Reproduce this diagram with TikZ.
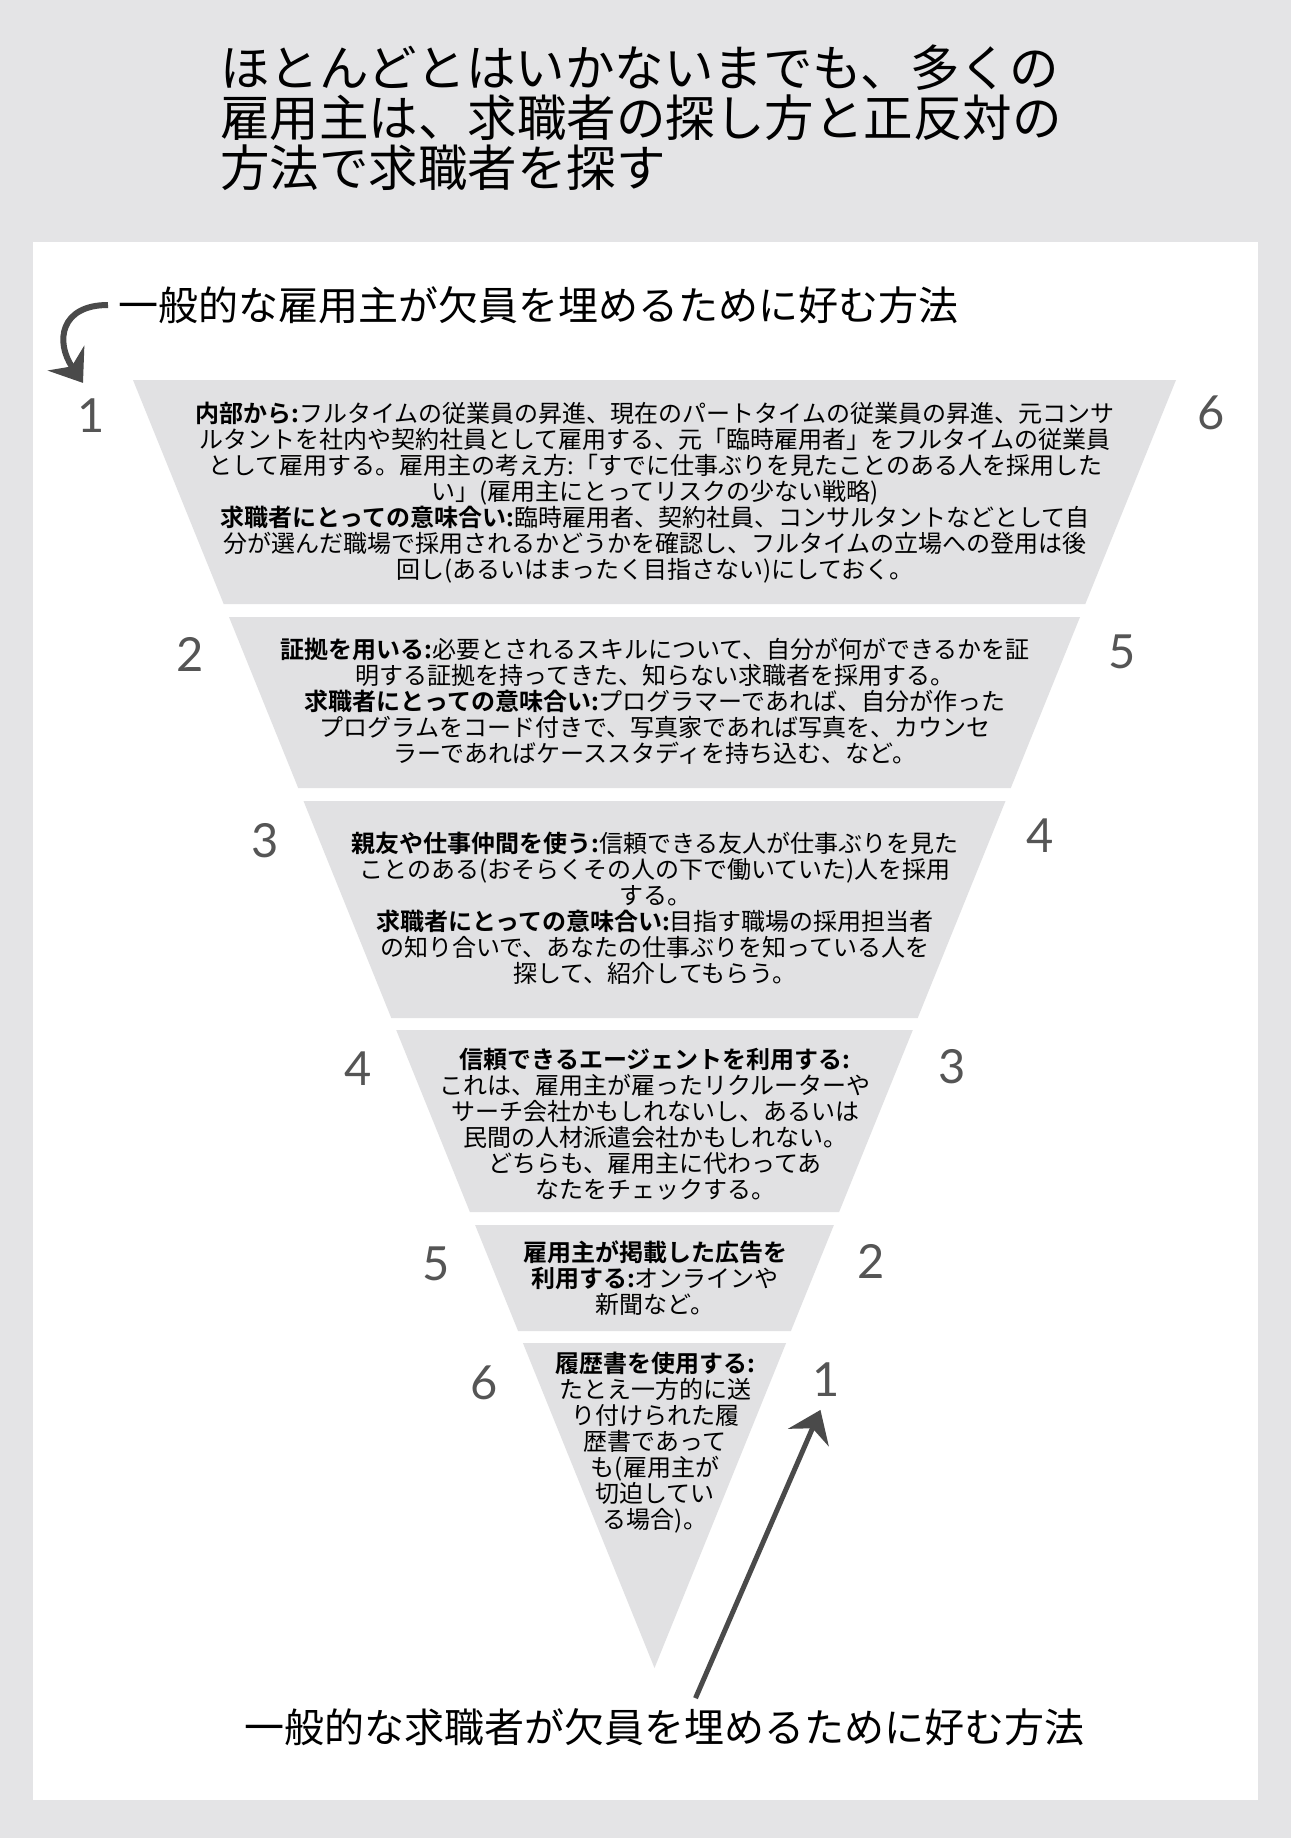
\documentclass[tikz,border=0pt]{standalone}
\usepackage{fontspec}
\setmainfont{Noto Sans CJK JP}[BoldFont={* Bold}]
\newfontfamily\numfont{Lato}
\usetikzlibrary{arrows.meta}
\definecolor{pagegray}{RGB}{228,228,230}
\definecolor{bandgray}{RGB}{225,225,227}
\definecolor{numgray}{RGB}{85,85,85}
\definecolor{arrowgray}{RGB}{74,74,74}
\tikzset{
  num/.style={font=\numfont\fontsize{47}{47}\selectfont, text=numgray, inner sep=0pt},
  bandtext/.style={font=\fontsize{24}{26}\selectfont, align=center, inner sep=0pt},
  arrowline/.style={draw=arrowgray, line width=6pt, -{Stealth[length=30pt,width=44pt,inset=10pt]}},
}
\begin{document}
\begin{tikzpicture}[x=1pt,y=-1pt]
\useasboundingbox (0,0) rectangle (1291,1838);
\fill[pagegray] (0,0) rectangle (1291,1838);
\fill[white] (33,242) rectangle (1258,1800);
% title
\node[anchor=west, align=left, inner sep=0pt, font=\fontsize{49.5}{50}\selectfont] (title) at (220,118)
  {ほとんどとはいかないまでも、多くの\\雇用主は、求職者の探し方と正反対の\\方法で求職者を探す};
% funnel bands
\fill[bandgray] (133,380) -- (1176,380) -- (1085.3,604) -- (223.7,604) -- cycle;
\fill[bandgray] (229,617) -- (1080,617) -- (1010.8,788) -- (298.2,788) -- cycle;
\fill[bandgray] (303.5,801) -- (1005.5,801) -- (917.7,1018) -- (391.3,1018) -- cycle;
\fill[bandgray] (396.2,1030) -- (912.8,1030) -- (839.1,1212) -- (469.9,1212) -- cycle;
\fill[bandgray] (475.1,1225) -- (833.9,1225) -- (790.9,1331) -- (518.1,1331) -- cycle;
\fill[bandgray] (522.9,1343) -- (786.1,1343) -- (654.5,1668) -- cycle;
% band texts
\node[bandtext] (internal) at (655,493)
  {\textbf{内部から:}フルタイムの従業員の昇進、現在のパートタイムの従業員の昇進、元コンサ\\ルタントを社内や契約社員として雇用する、元「臨時雇用者」をフルタイムの従業員\\として雇用する。雇用主の考え方:「すでに仕事ぶりを見たことのある人を採用した\\い」(雇用主にとってリスクの少ない戦略)\\\textbf{求職者にとっての意味合い:}臨時雇用者、契約社員、コンサルタントなどとして自\\分が選んだ職場で採用されるかどうかを確認し、フルタイムの立場への登用は後\\回し(あるいはまったく目指さない)にしておく。};
\node[bandtext] (evidence) at (655,701)
  {\textbf{証拠を用いる:}必要とされるスキルについて、自分が何ができるかを証\\明する証拠を持ってきた、知らない求職者を採用する。\\\textbf{求職者にとっての意味合い:}プログラマーであれば、自分が作った\\プログラムをコード付きで、写真家であれば写真を、カウンセ\\ラーであればケーススタディを持ち込む、など。};
\node[bandtext] (referral) at (655,908)
  {\textbf{親友や仕事仲間を使う:}信頼できる友人が仕事ぶりを見た\\ことのある(おそらくその人の下で働いていた)人を採用\\する。\\\textbf{求職者にとっての意味合い:}目指す職場の採用担当者\\の知り合いで、あなたの仕事ぶりを知っている人を\\探して、紹介してもらう。};
\node[bandtext] (agency) at (655,1124)
  {\textbf{信頼できるエージェントを利用する:}\\これは、雇用主が雇ったリクルーターや\\サーチ会社かもしれないし、あるいは\\民間の人材派遣会社かもしれない。\\どちらも、雇用主に代わってあ\\なたをチェックする。};
\node[bandtext] (advert) at (655,1278)
  {\textbf{雇用主が掲載した広告を}\\\textbf{利用する:}オンラインや\\新聞など。};
\node[bandtext] (resume) at (655,1443)
  {\textbf{履歴書を使用する:}\\たとえ一方的に送\\り付けられた履\\歴書であって\\も(雇用主が\\切迫してい\\る場合)。};
% rank numbers
\node[num] (lnum1) at (91,416) {1};
\node[num] (lnum2) at (190,654) {2};
\node[num] (lnum3) at (265,841) {3};
\node[num] (lnum4) at (358,1069) {4};
\node[num] (lnum5) at (436,1264) {5};
\node[num] (lnum6) at (484,1383) {6};
\node[num] (rnum6) at (1211,413) {6};
\node[num] (rnum5) at (1122,652) {5};
\node[num] (rnum4) at (1040,836) {4};
\node[num] (rnum3) at (952,1067) {3};
\node[num] (rnum2) at (871,1261) {2};
\node[num] (rnum1) at (826,1380) {1};
% captions and arrows
\node[anchor=west, inner sep=0pt, font=\fontsize{40}{40}\selectfont] (empl) at (118,305)
  {一般的な雇用主が欠員を埋めるために好む方法};
\node[inner sep=0pt, font=\fontsize{40}{40}\selectfont] (seeker) at (664.5,1727)
  {一般的な求職者が欠員を埋めるために好む方法};
\draw[arrowline] ([xshift=-10pt]empl.west) .. controls +(-48,0) and +(-28,-41) .. ([shift={(-8pt,16pt)}]lnum1.north);
\draw[arrowline, line width=5pt, shorten >=14pt] ([xshift=31pt,yshift=10pt]seeker.north) -- (rnum1.south);
\end{tikzpicture}
\end{document}
